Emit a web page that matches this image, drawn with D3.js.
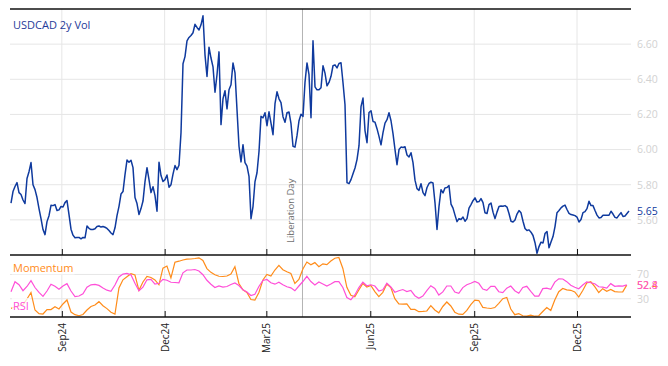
<!DOCTYPE html>
<html>
<head>
<meta charset="utf-8">
<script src="https://cdn.jsdelivr.net/npm/d3@7"></script>
<style>
  html, body { margin: 0; padding: 0; background: #fff; }
  svg { display: block; font-family: "Open Sans", sans-serif; }
</style>
</head>
<body>
<svg id="chart" width="668" height="366"></svg>
<script>
// ---- data ----
const volStart = new Date(2024, 6, 18);
const volEnd = new Date(2026, 0, 16);
const oscEnd = new Date(2026, 0, 14);

const volValues = [
  5.695, 5.761, 5.79, 5.812, 5.755, 5.744, 5.713, 5.693, 5.835, 5.874,
  5.926, 5.80, 5.772, 5.727, 5.664, 5.607, 5.545, 5.516, 5.59, 5.624,
  5.683, 5.681, 5.687, 5.653, 5.657, 5.676, 5.673, 5.698, 5.71, 5.63,
  5.547, 5.513, 5.498, 5.50, 5.50, 5.492, 5.50, 5.498, 5.565, 5.552,
  5.545, 5.545, 5.549, 5.562, 5.565, 5.559, 5.562, 5.558, 5.551, 5.539,
  5.525, 5.516, 5.555, 5.624, 5.677, 5.747, 5.761, 5.857, 5.94, 5.928,
  5.939, 5.897, 5.727, 5.693, 5.63, 5.664, 5.707, 5.818, 5.897, 5.829,
  5.755, 5.789, 5.738, 5.649, 5.928, 5.852, 5.818, 5.829, 5.855, 5.786,
  5.80, 5.86, 5.909, 5.886, 5.911, 6.096, 6.488, 6.529, 6.619, 6.638,
  6.649, 6.665, 6.713, 6.695, 6.681, 6.71, 6.761, 6.539, 6.416, 6.583,
  6.521, 6.471, 6.326, 6.426, 6.556, 6.142, 6.289, 6.335, 6.232, 6.34,
  6.369, 6.493, 6.437, 6.227, 6.019, 5.93, 6.028, 5.926, 5.906, 5.848,
  5.607, 5.676, 5.818, 5.868, 5.989, 6.189, 6.181, 6.21, 6.136, 6.215,
  6.151, 6.085, 6.261, 6.329, 6.289, 6.267, 6.187, 6.155, 6.21, 6.214,
  6.147, 6.019, 6.014, 6.079, 6.164, 6.201, 6.189, 6.383, 6.493, 6.426,
  6.181, 6.619, 6.357, 6.34, 6.34, 6.352, 6.477, 6.435, 6.363, 6.382,
  6.417, 6.477, 6.482, 6.465, 6.49, 6.494, 6.38, 6.255, 5.812, 5.806,
  5.829, 5.863, 5.895, 5.943, 6.022, 6.244, 6.293, 6.108, 6.039, 6.211,
  6.221, 6.16, 6.156, 6.119, 6.075, 6.027, 6.096, 6.151, 6.17, 6.21,
  6.164, 6.091, 6.00, 5.914, 6.00, 6.014, 6.012, 6.016, 5.969, 5.958,
  5.982, 5.926, 5.826, 5.778, 5.768, 5.806, 5.755, 5.738, 5.784, 5.807,
  5.814, 5.81, 5.697, 5.545, 5.677, 5.772, 5.753, 5.782, 5.784, 5.795,
  5.69, 5.667, 5.627, 5.59, 5.607, 5.602, 5.616, 5.592, 5.607, 5.667,
  5.687, 5.709, 5.725, 5.701, 5.704, 5.721, 5.698, 5.64, 5.636, 5.687,
  5.696, 5.644, 5.607, 5.644, 5.676, 5.679, 5.677, 5.681, 5.673, 5.636,
  5.592, 5.588, 5.599, 5.633, 5.653, 5.64, 5.592, 5.551, 5.539, 5.543,
  5.53, 5.511, 5.47, 5.41, 5.448, 5.473, 5.468, 5.522, 5.534, 5.441,
  5.474, 5.505, 5.562, 5.641, 5.653, 5.668, 5.678, 5.684, 5.659, 5.637,
  5.63, 5.628, 5.624, 5.616, 5.588, 5.602, 5.641, 5.647, 5.664, 5.706,
  5.681, 5.681, 5.653, 5.627, 5.611, 5.613, 5.626, 5.626, 5.626, 5.626,
  5.649, 5.633, 5.614, 5.611, 5.627, 5.641, 5.619, 5.622, 5.636, 5.65
];

const momentum = [
  14.3, 16.5, 18.1, 20.6, 29.6, 40.3, 11.5, 5.4, 4.9, 12.3,
  12.2, 16.9, 13.2, 21.4, 28, 8.2, 3.8, 2.1, 4.1, 11.5,
  17.3, 19.7, 25.2, 18.6, 13.8, 7.9, 4.9, 47.7, 61.2, 66.3,
  71.2, 69.1, 43.9, 57.6, 66.6, 65, 60.9, 53, 80.4, 83.9,
  64.2, 90, 91.8, 93.8, 95.1, 95.4, 96.2, 97.4, 93, 79.6,
  73.4, 69.6, 67, 66.6, 67.4, 70.7, 82.7, 55.1, 44.7, 40.5,
  28.8, 28, 40.3, 60.9, 69.9, 67.4, 77.3, 84.9, 77.8, 74.4,
  71.6, 55.1, 61.7, 79, 90.5, 86, 89.5, 82.7, 87.5, 86.2,
  92.1, 96.7, 97.9, 79.8, 48.9, 35.7, 33.4, 44.4, 55.1, 49.4,
  52, 41.9, 33.6, 40.6, 54.3, 48.5, 30.1, 21.7, 21.2, 21.5,
  12.5, 12.5, 8.7, 9.2, 9.9, 18.6, 11.5, 6.9, 17.3, 24.7,
  18.1, 7.9, 4.6, 4.4, 10.9, 20.2, 27.6, 27.1, 15.8, 14.8,
  14, 15.5, 22.5, 30.1, 32.1, 13.2, 3.8, 5.6, 2.1, 1.6,
  3.1, 1.3, 2, 9, 15.6, 10.7, 28, 41.6, 46.9, 44.7,
  43.9, 41.3, 32.9, 43.6, 56.1, 57.9, 49.8, 40.3, 46.6, 42.4,
  45.2, 41.8, 41.1, 41.3, 52.4
];

const rsi = [
  41.6, 58.1, 53.1, 43.3, 50.2, 59.9, 48.5, 40.6, 33.9, 42.8,
  54, 50.5, 45.6, 51, 54.8, 42.8, 33.4, 34.5, 38.3, 48.9,
  53, 53.8, 52, 47.7, 44.1, 42.1, 52.6, 65.8, 70.6, 71.7,
  69.4, 55.4, 43.3, 49.1, 61.2, 62, 54, 55.4, 62, 60.5,
  57.2, 56.8, 56.3, 72.7, 77.3, 77.3, 78.1, 75.7, 69.6, 60.4,
  53.8, 48.5, 51, 49.1, 50.2, 53.5, 55.9, 51.8, 44.9, 41.1,
  35.4, 37.5, 50.2, 60, 61.7, 56.4, 54, 57.2, 53.1, 49.7,
  48, 43.1, 51, 58.4, 67, 58.4, 52.6, 57.6, 54.3, 51,
  54.3, 58.1, 58.1, 48.5, 32.1, 28.5, 36.2, 48.5, 57.2, 51.3,
  53, 51, 42.8, 44.7, 55.6, 49.4, 40.8, 43.1, 45.2, 41.9,
  43.8, 35, 30.8, 34.5, 43.3, 51.5, 47, 36.2, 41.3, 51,
  51, 41.1, 39, 48.4, 53, 55.6, 58.6, 55.4, 46.1, 43.8,
  50.5, 50.5, 41.6, 40, 47.4, 51, 43.3, 39, 48.5, 50.5,
  42.3, 34.5, 34.5, 46.6, 47.4, 45.4, 57.4, 62.8, 62.5, 58.2,
  52.3, 49, 46.4, 52.6, 57.9, 56.3, 54.8, 49.8, 49, 47.5,
  54.9, 50.5, 51.3, 50.7, 52.8
];

const monthTicks = ["2024-09-01", "2024-12-01", "2025-03-01", "2025-06-01", "2025-09-01", "2025-12-01"];
const volTicks = [5.6, 5.8, 6.0, 6.2, 6.4, 6.6];
const oscTicks = [30, 70];
const eventDate = "2025-04-02";
const eventLabel = "Liberation Day";

// ---- setup ----
const svg = d3.select('#chart');
const plotLeft = 10, plotRight = 631;
const topY = 9, midY = 255, botY = 317;

const colors = { vol: '#0f3a9e', mom: '#ff8c1a', rsi: '#ff4fd8', grid: '#e6e6e6', axisText: '#d2d2d2' };

const x = d3.scaleTime().domain([volStart, volEnd]).range([11, 629]);
const yVol = d3.scaleLinear().domain([5.40, 6.80]).range([midY, topY]);
const yOsc = d3.scaleLinear().domain([0, 102]).range([botY, midY]);

const parse = d3.timeParse("%Y-%m-%d");
const tickDates = monthTicks.map(parse);

// spread the sampled values evenly over their date span
function spreadDates(values, start, end) {
  const n = values.length;
  return values.map((v, i) => ({ date: new Date(+start + i * (end - start) / (n - 1)), value: v }));
}
const volData = spreadDates(volValues, volStart, volEnd);
const momData = spreadDates(momentum, volStart, oscEnd);
const rsiData = spreadDates(rsi, volStart, oscEnd);

// Grid lines
const grid = svg.append('g');
grid.selectAll('.hv').data(volTicks).join('line')
  .attr('x1', plotLeft).attr('x2', plotRight)
  .attr('y1', d => yVol(d)).attr('y2', d => yVol(d))
  .attr('stroke', colors.grid);
grid.selectAll('.ho').data(oscTicks).join('line')
  .attr('x1', plotLeft).attr('x2', plotRight)
  .attr('y1', d => yOsc(d)).attr('y2', d => yOsc(d))
  .attr('stroke', colors.grid);
grid.selectAll('.vx').data(tickDates).join('line')
  .attr('x1', d => x(d)).attr('x2', d => x(d))
  .attr('y1', topY).attr('y2', botY)
  .attr('stroke', colors.grid);

// Event line
const ex = x(parse(eventDate));
svg.append('line')
  .attr('x1', ex).attr('x2', ex)
  .attr('y1', topY).attr('y2', botY)
  .attr('stroke', '#b4b4b4');
svg.append('text')
  .attr('transform', `translate(${ex - 8.5}, 243) rotate(-90)`)
  .attr('fill', '#707070')
  .attr('font-size', '9.5px')
  .text(eventLabel);

// Lines
const volLine = d3.line().x(d => x(d.date)).y(d => yVol(d.value));
const oscLine = d3.line().x(d => x(d.date)).y(d => yOsc(d.value));

svg.append('path').datum(volData)
  .attr('d', volLine)
  .attr('fill', 'none')
  .attr('stroke', colors.vol)
  .attr('stroke-width', 1.5)
  .attr('stroke-linejoin', 'round');

svg.append('path').datum(momData)
  .attr('d', oscLine)
  .attr('fill', 'none')
  .attr('stroke', colors.mom)
  .attr('stroke-width', 1.2);

svg.append('path').datum(rsiData)
  .attr('d', oscLine)
  .attr('fill', 'none')
  .attr('stroke', colors.rsi)
  .attr('stroke-width', 1.2);

// Panel borders
[topY, midY, botY].forEach(y => {
  svg.append('line')
    .attr('x1', plotLeft).attr('x2', plotRight)
    .attr('y1', y).attr('y2', y)
    .attr('stroke', '#111')
    .attr('stroke-width', 1.3);
});

// X ticks: top panel (inward from separator)
svg.append('g')
  .attr('transform', `translate(0,${midY})`)
  .call(d3.axisTop(x).tickValues(tickDates).tickSize(6).tickFormat(''))
  .call(g => g.select('.domain').remove())
  .call(g => g.selectAll('line').attr('stroke', '#111'));

// X axis: bottom of lower panel with rotated labels
svg.append('g')
  .attr('transform', `translate(0,${botY})`)
  .call(d3.axisBottom(x).tickValues(tickDates).tickSize(-6).tickPadding(0)
    .tickFormat(d3.timeFormat('%b%y')))
  .call(g => g.select('.domain').remove())
  .call(g => g.selectAll('line').attr('stroke', '#111'))
  .call(g => g.selectAll('text')
    .attr('transform', 'rotate(-90)')
    .attr('x', -6).attr('y', 0).attr('dy', '0.35em')
    .attr('text-anchor', 'end')
    .attr('fill', '#222')
    .attr('font-family', '"Open Sans", sans-serif')
    .attr('font-size', '10px'));

// Right value axes
svg.append('g')
  .attr('transform', `translate(${plotRight},0)`)
  .call(d3.axisRight(yVol).tickValues(volTicks).tickSize(0).tickPadding(6).tickFormat(d3.format('.2f')))
  .call(g => g.select('.domain').remove())
  .call(g => g.selectAll('text').attr('fill', colors.axisText)
    .attr('font-family', '"Open Sans", sans-serif').attr('font-size', '10.5px'));

svg.append('g')
  .attr('transform', `translate(${plotRight},0)`)
  .call(d3.axisRight(yOsc).tickValues(oscTicks).tickSize(0).tickPadding(6))
  .call(g => g.select('.domain').remove())
  .call(g => g.selectAll('text').attr('fill', colors.axisText)
    .attr('font-family', '"Open Sans", sans-serif').attr('font-size', '10.5px'));

// Last value labels
function lastLabel(value, y, color, fmt) {
  svg.append('text')
    .attr('x', plotRight + 6)
    .attr('y', y(value))
    .attr('dy', '0.35em')
    .attr('fill', color)
    .attr('font-size', '10.5px')
    .text(d3.format(fmt)(value));
}
lastLabel(volValues[volValues.length - 1], yVol, colors.vol, '.2f');
lastLabel(momentum[momentum.length - 1], yOsc, colors.mom, '.1f');
lastLabel(rsi[rsi.length - 1], yOsc, colors.rsi, '.1f');

// Titles / legends
svg.append('text')
  .attr('x', 13).attr('y', 28.5)
  .attr('fill', '#1f3b99')
  .attr('font-size', '11px')
  .text('USDCAD 2y Vol');

function legendLabel(label, color, y) {
  const t = svg.append('text')
    .attr('x', 13).attr('y', y)
    .attr('fill', color)
    .attr('font-size', '11px')
    .text(label);
  const bb = t.node().getBBox();
  svg.insert('rect', () => t.node())
    .attr('x', bb.x - 1).attr('y', bb.y)
    .attr('width', bb.width + 2).attr('height', bb.height)
    .attr('fill', '#fff').attr('fill-opacity', 0.75);
}
legendLabel('Momentum', colors.mom, 271.5);
legendLabel('RSI', colors.rsi, 310);
</script>
</body>
</html>
